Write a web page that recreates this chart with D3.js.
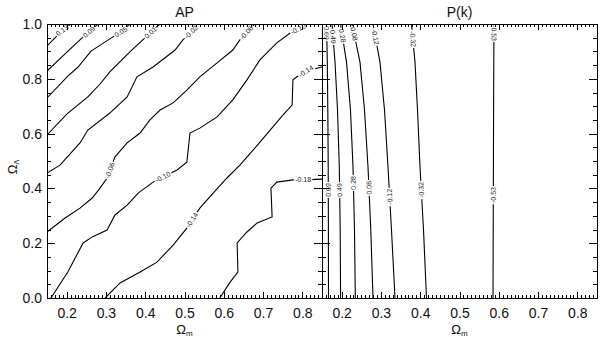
<!DOCTYPE html>
<html>
<head>
<meta charset="utf-8">
<script src="https://cdn.jsdelivr.net/npm/d3@7"></script>
<style>
	body { margin: 0; background: #fff; }
	svg { font-family: "Liberation Sans", Arial, sans-serif; }
	.tick line { stroke: #000; stroke-width: 1; shape-rendering: crispEdges; }
	.tick text { font-size: 14px; fill: #111; }
	.contour { fill: none; stroke: #000; stroke-width: 1.1; }
	.clabel { font-size: 7px; fill: #222; stroke: #fff; stroke-width: 3px; paint-order: stroke; }
</style>
</head>
<body>
<div id="chart"></div>
<script>

///////////////////////////////////////////////////////////////////////////
///////////////////////////////// Data ////////////////////////////////////
///////////////////////////////////////////////////////////////////////////

var panelTitles = ["AP", "P(k)"];
var xTickLabels = [0.2, 0.3, 0.4, 0.5, 0.6, 0.7, 0.8];
var yTickLabels = [0.0, 0.2, 0.4, 0.6, 0.8, 1.0];

//AP contours, each one [Omega_m, Omega_Lambda] from bottom left to top right
var apLevels = [0.13, 0.09, 0.05, 0.01, -0.02, -0.06, -0.10, -0.14, -0.18];
var apLines = [
	[[0.150,0.920],[0.173,0.953],[0.186,0.974],[0.211,1.0]],
	[[0.150,0.828],[0.198,0.894],[0.242,0.953],[0.257,0.971],[0.280,1.0]],
	[[0.150,0.730],[0.203,0.810],[0.229,0.843],[0.262,0.901],[0.318,0.953],[0.338,0.971],[0.361,1.0]],
	[[0.150,0.595],[0.201,0.672],[0.254,0.734],[0.285,0.781],[0.310,0.825],[0.361,0.898],[0.402,0.953],[0.415,0.971],[0.438,1.0]],
	[[0.150,0.456],[0.183,0.485],[0.234,0.566],[0.254,0.613],[0.310,0.675],[0.354,0.734],[0.379,0.807],[0.420,0.843],
	 [0.476,0.905],[0.496,0.942],[0.517,0.971],[0.532,1.0]],
	[[0.150,0.241],[0.196,0.292],[0.234,0.328],[0.265,0.365],[0.285,0.401],[0.303,0.438],[0.310,0.467],[0.323,0.515],
	 [0.354,0.566],[0.387,0.602],[0.412,0.650],[0.438,0.686],[0.471,0.712],[0.506,0.759],[0.539,0.807],[0.583,0.858],
	 [0.623,0.905],[0.641,0.942],[0.659,0.971],[0.679,1.0]],
	[[0.160,0.0],[0.203,0.095],[0.242,0.201],[0.265,0.223],[0.303,0.248],[0.323,0.303],[0.354,0.339],[0.382,0.383],
	 [0.420,0.423],[0.445,0.442],[0.481,0.467],[0.506,0.496],[0.514,0.602],[0.539,0.620],[0.583,0.661],[0.623,0.723],
	 [0.659,0.796],[0.692,0.869],[0.735,0.931],[0.769,0.967],[0.794,0.985],[0.807,1.0]],
	[[0.298,0.0],[0.336,0.055],[0.387,0.095],[0.430,0.131],[0.471,0.193],[0.506,0.255],[0.519,0.285],[0.539,0.328],
	 [0.573,0.383],[0.608,0.438],[0.641,0.485],[0.679,0.547],[0.718,0.613],[0.751,0.668],[0.774,0.704],[0.776,0.796],
	 [0.789,0.810],[0.809,0.828],[0.850,0.843]],
	[[0.590,0.0],[0.616,0.058],[0.636,0.095],[0.634,0.201],[0.659,0.241],[0.685,0.274],[0.723,0.296],[0.720,0.401],
	 [0.735,0.423],[0.776,0.431],[0.802,0.431],[0.850,0.434]]
];
//[line index, Omega_m, Omega_Lambda, flip]
var apLabels = [
	[0,0.188,0.978,0],[1,0.257,0.971,0],[2,0.338,0.971,0],[3,0.412,0.971,0],[4,0.517,0.971,0],
	[5,0.659,0.967,0],[6,0.791,0.978,0],[7,0.809,0.828,0],[5,0.308,0.467,0],[6,0.445,0.442,0],
	[7,0.519,0.285,0],[8,0.802,0.431,0]
];

//P(k) contours, each one from top to bottom
var pkLevels = [0.69, 0.49, 0.28, 0.08, -0.12, -0.32, -0.53];
var pkOmegaL = [1.0, 0.861, 0.686, 0.478, 0.248, 0.0];
var pkOmegaM = [
	[0.1615, 0.1635, 0.1648, 0.1658, 0.1663, 0.1665],
	[0.1755, 0.1831, 0.1895, 0.1940, 0.1963, 0.1973],
	[0.1971, 0.2124, 0.2225, 0.2289, 0.2327, 0.2348],
	[0.2264, 0.2467, 0.2582, 0.2671, 0.2742, 0.2798],
	[0.2798, 0.2976, 0.3091, 0.3180, 0.3269, 0.3358],
	[0.3778, 0.3867, 0.3931, 0.3995, 0.4084, 0.4160],
	[0.5878, 0.5873, 0.5868, 0.5863, 0.5858, 0.5853]
];
var pkLabels = [
	[0,0.1617,0.967,0],[0,0.1654,0.394,1],[1,0.1780,0.953,0],[1,0.1945,0.394,1],
	[2,0.2008,0.957,0],[2,0.2300,0.420,1],[3,0.2315,0.964,0],[3,0.2678,0.402,1],
	[4,0.2849,0.953,0],[4,0.3193,0.369,1],[5,0.3804,0.945,0],[5,0.4008,0.394,1],
	[6,0.5878,0.967,0],[6,0.5863,0.376,1]
];

///////////////////////////////////////////////////////////////////////////
//////////////////// Set up and initiate svg containers ///////////////////
///////////////////////////////////////////////////////////////////////////

var totalWidth = 600, totalHeight = 337;
var panelW = 275, panelH = 274;
var panelLeft = [47, 322], panelTop = 24;

var svg = d3.select("#chart").append("svg")
	.attr("width", totalWidth)
	.attr("height", totalHeight);

var x = d3.scaleLinear().domain([0.15, 0.85]).range([0, panelW]);
var y = d3.scaleLinear().domain([0, 1]).range([panelH, 0]);

var line = d3.line()
	.x(function(d) { return x(d[0]); })
	.y(function(d) { return y(d[1]); });

var fmtTick = d3.format(".1f");
var xMinor = d3.range(15, 86).map(function(d) { return d / 100; });
var yMinor = d3.range(0, 21).map(function(d) { return d / 20; });

///////////////////////////////////////////////////////////////////////////
///////////////////////////// Panel helpers ///////////////////////////////
///////////////////////////////////////////////////////////////////////////

function drawPanel(i, lines, levels, labels) {
	var g = svg.append("g")
		.attr("class", "panel" + i)
		.attr("transform", "translate(" + panelLeft[i] + "," + panelTop + ")");

	g.append("clipPath").attr("id", "clip" + i)
		.append("rect").attr("width", panelW).attr("height", panelH);

	//Contour lines
	g.append("g").attr("clip-path", "url(#clip" + i + ")")
		.selectAll("path")
		.data(lines)
		.enter().append("path")
		.attr("class", "contour")
		.attr("d", line);

	//Contour labels, rotated along the line at that spot
	labels.forEach(function(l) {
		var pts = lines[l[0]].map(function(p) { return [x(p[0]), y(p[1])]; });
		var px = x(l[1]), py = y(l[2]);
		var best = null;
		for (var k = 0; k < pts.length - 1; k++) {
			var a = pts[k], b = pts[k + 1];
			var dx = b[0] - a[0], dy = b[1] - a[1];
			var t = ((px - a[0]) * dx + (py - a[1]) * dy) / (dx * dx + dy * dy);
			t = Math.max(0, Math.min(1, t));
			var qx = a[0] + t * dx, qy = a[1] + t * dy;
			var dist = (qx - px) * (qx - px) + (qy - py) * (qy - py);
			if (!best || dist < best.dist) best = {dist: dist, x: qx, y: qy, ang: Math.atan2(dy, dx) * 180 / Math.PI};
		}
		var ang = best.ang + (l[3] ? 180 : 0);
		g.append("text")
			.attr("class", "clabel")
			.attr("transform", "translate(" + best.x + "," + best.y + ") rotate(" + ang + ")")
			.attr("text-anchor", "middle")
			.attr("dy", "0.35em")
			.text(levels[l[0]].toFixed(2));
	});

	//Ticks: bottom and top
	var bottom = g.append("g").attr("transform", "translate(0," + panelH + ")");
	bottom.append("g").call(d3.axisBottom(x).tickValues(xMinor).tickSize(-3).tickFormat(""));
	bottom.append("g").call(d3.axisBottom(x).tickValues(xTickLabels).tickSize(-6).tickPadding(10).tickFormat(fmtTick));
	g.append("g").call(d3.axisTop(x).tickValues(xMinor).tickSize(-3).tickFormat(""));
	g.append("g").call(d3.axisTop(x).tickValues(xTickLabels).tickSize(-6).tickFormat(""));

	//Ticks: left and right
	g.append("g").call(d3.axisLeft(y).tickValues(yMinor).tickSize(-4).tickFormat(""));
	g.append("g").call(d3.axisLeft(y).tickValues(yTickLabels).tickSize(-8).tickPadding(5)
		.tickFormat(i === 0 ? fmtTick : ""));
	var right = g.append("g").attr("transform", "translate(" + panelW + ",0)");
	right.append("g").call(d3.axisRight(y).tickValues(yMinor).tickSize(-4).tickFormat(""));
	right.append("g").call(d3.axisRight(y).tickValues(yTickLabels).tickSize(-8).tickFormat(""));

	g.selectAll(".domain").remove();
	g.selectAll(".tick text").attr("font-family", null).attr("font-size", null);

	//Frame
	g.append("rect")
		.attr("width", panelW)
		.attr("height", panelH)
		.style("fill", "none")
		.style("stroke", "#000")
		.style("stroke-width", 1)
		.style("shape-rendering", "crispEdges");

	//Title
	g.append("text")
		.attr("x", panelW / 2)
		.attr("y", -7)
		.style("text-anchor", "middle")
		.style("font-size", "14px")
		.style("fill", "#111")
		.text(panelTitles[i]);

	//x axis title
	var xt = g.append("text")
		.attr("x", panelW / 2)
		.attr("y", panelH + 36)
		.style("text-anchor", "middle")
		.style("font-size", "13px")
		.style("fill", "#111")
		.text("\u03A9");
	xt.append("tspan").attr("dy", 2).style("font-size", "8px").text("m");

	return g;
}

///////////////////////////////////////////////////////////////////////////
///////////////////////////// Draw both panels ////////////////////////////
///////////////////////////////////////////////////////////////////////////

drawPanel(0, apLines, apLevels, apLabels);

var pkLines = pkOmegaM.map(function(row) {
	return row.map(function(m, j) { return [m, pkOmegaL[j]]; });
});
drawPanel(1, pkLines, pkLevels, pkLabels);

//y axis title
var yt = svg.append("text")
	.attr("transform", "translate(17," + (panelTop + panelH / 2 + 6) + ") rotate(-90)")
	.style("text-anchor", "middle")
	.style("font-size", "13px")
	.style("fill", "#111")
	.text("\u03A9");
yt.append("tspan").attr("dy", 2).style("font-size", "7px").text("\u039B");

</script>
</body>
</html>
